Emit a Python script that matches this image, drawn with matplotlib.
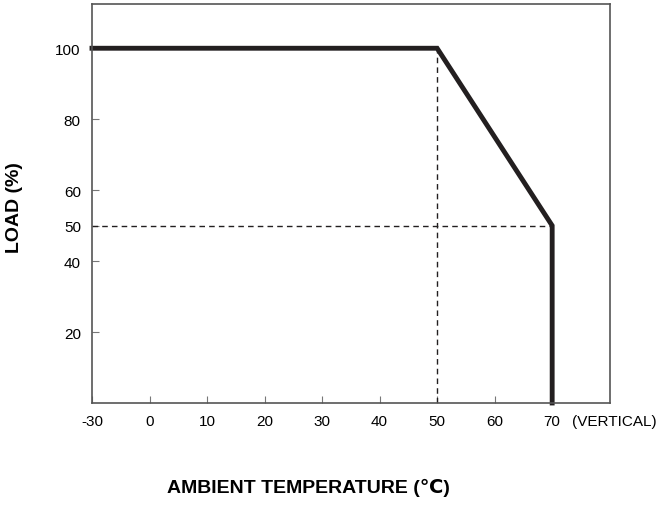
import matplotlib
matplotlib.use('Agg')
import matplotlib.pyplot as plt

# derating curve (the x axis is broken between -30 and 0)
temp = [-30, 50, 70, 70]
load = [100, 100, 50, 0]
xticks = [-30, 0, 10, 20, 30, 40, 50, 60, 70]
yticks = [20, 40, 50, 60, 80, 100]


def xpos(t):
    # -30 sits one step left of 0, other values are linear in steps of 10
    return -1.0 if t == -30 else t / 10.0


plt.rcParams['font.family'] = ['Liberation Sans', 'DejaVu Sans']
plt.rcParams['axes.unicode_minus'] = False

fig = plt.figure(figsize=(6.57, 5.06), dpi=100)
ax = fig.add_axes([0.140, 0.2016, 0.788, 0.788])

ax.plot([xpos(t) for t in temp], load, color='#231f20', lw=3.5, solid_joinstyle='miter', clip_on=False)
ax.plot([xpos(50), xpos(50)], [0, 100], color='#231f20', lw=1, ls=(0, (4, 3)))
ax.plot([xpos(-30), xpos(70)], [50, 50], color='#231f20', lw=1, ls=(0, (4, 3)))

ax.set_xlim(-1, 8)
ax.set_ylim(0, 112.4)
ax.set_xticks([xpos(t) for t in xticks])
ax.set_xticklabels([str(t) for t in xticks])
ax.set_yticks(yticks)
ax.tick_params(direction='in', length=5, color='#777777', labelsize=11, pad=8)
for s in ax.spines.values():
    s.set_color('#555555')
    s.set_linewidth(1.2)

ax.text(xpos(70) + 0.35, -0.045, '(VERTICAL)', transform=ax.get_xaxis_transform(),
        fontsize=11, va='center', ha='left')
fig.text(0.022, 0.59, 'LOAD (%)', rotation=90, fontsize=14, fontweight='bold', va='center', ha='center')
fig.text(0.47, 0.035, 'AMBIENT TEMPERATURE (℃)', fontsize=14, fontweight='bold', va='center', ha='center')

fig.savefig('out.png', dpi=100)
